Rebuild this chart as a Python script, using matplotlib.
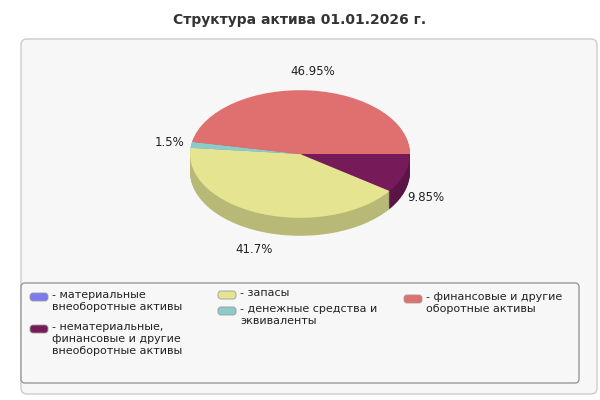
import matplotlib
matplotlib.use("Agg")
import matplotlib.pyplot as plt
from matplotlib.patches import Wedge, FancyBboxPatch
from matplotlib.transforms import Affine2D
import numpy as np

title = "Структура актива 01.01.2026 г."
categories = ["материальные\nвнеоборотные активы",
              "нематериальные,\nфинансовые и другие\nвнеоборотные активы",
              "запасы", "денежные средства и\nэквиваленты",
              "финансовые и другие\nоборотные активы"]
values = [0.0, 9.85, 41.7, 1.5, 46.95]
labels = ["", "9.85%", "41.7%", "1.5%", "46.95%"]
colors = ["#7b7bee", "#761a5a", "#e5e591", "#8ccbcb", "#e07070"]
side_colors = ["#5c5cb3", "#5a1446", "#b9b977", "#6a9e9e", "#b55a5a"]

fig = plt.figure(figsize=(6, 4), dpi=100)
ax = fig.add_axes([0, 0, 1, 1])
ax.set_xlim(0, 600); ax.set_ylim(0, 400); ax.axis("off")
H = 400
ax.add_patch(FancyBboxPatch((21, H - 394), 576, 355, boxstyle="round,pad=0,rounding_size=6",
                            fc="#f7f7f7", ec="#cccccc", lw=1))
ax.text(300, H - 20, title, ha="center", va="center", fontsize=10, fontweight="bold", color="#333333")

cx, cy, rx, sy, depth = 300, H - 154, 110, 0.58, 18
def tr(dy):
    return Affine2D().scale(1, sy).translate(cx, cy - dy) + ax.transData

for d in range(depth, 0, -1):
    start = 0.0
    for v, c in zip(values, side_colors):
        if v > 0:
            ax.add_patch(Wedge((0, 0), rx, start - 3.6 * v, start, fc=c, ec="none", transform=tr(d)))
        start -= 3.6 * v
start = 0.0
for v, c, lab in zip(values, colors, labels):
    if v > 0:
        ax.add_patch(Wedge((0, 0), rx, start - 3.6 * v, start, fc=c, ec="none", transform=tr(0)))
        mid = np.radians(start - 1.8 * v)
        x = cx + 1.2 * rx * np.cos(mid)
        y = cy + 1.3 * rx * sy * np.sin(mid) - (depth if np.sin(mid) < 0 else 0)
        ax.text(x, y, lab, ha="center", va="center", fontsize=8.5, color="#222222")
    start -= 3.6 * v

ax.add_patch(FancyBboxPatch((21, H - 383), 558, 100, boxstyle="round,pad=0,rounding_size=4",
                            fc="#f7f7f7", ec="#999999", lw=1))
pos = [(30, 297), (30, 329), (218, 295), (218, 311), (404, 299)]
for (x, y), c, name in zip(pos, colors, categories):
    ax.add_patch(FancyBboxPatch((x, H - y - 4), 18, 8, boxstyle="round,pad=0,rounding_size=3",
                                fc=c, ec="#999999", lw=0.6))
    ax.text(x + 22, H - y + 7, "- " + name, ha="left", va="top", fontsize=8, color="#222222",
            linespacing=1.25)

fig.savefig("out.png", dpi=100)
